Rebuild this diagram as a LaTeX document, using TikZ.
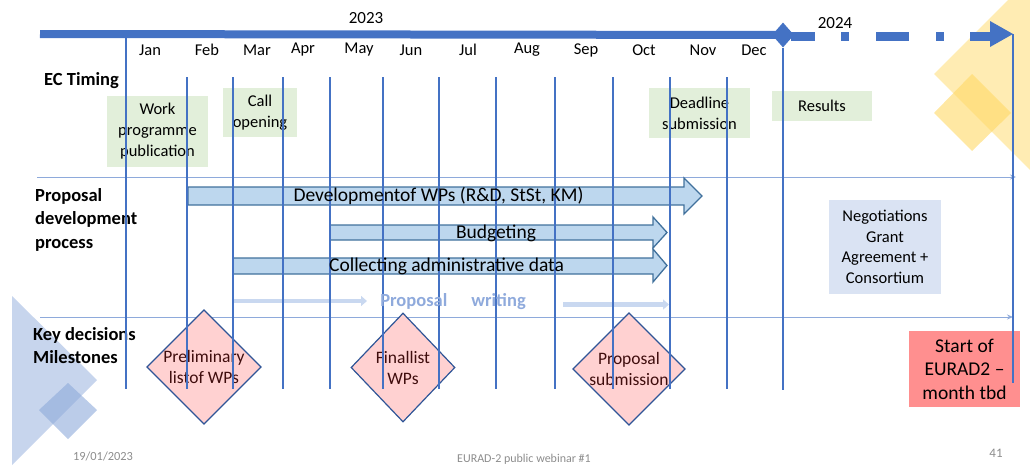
\documentclass[tikz,border=0pt]{standalone}
\usepackage{fontspec}
\setmainfont{Carlito}
\usetikzlibrary{shapes.geometric,arrows.meta}
\definecolor{barblue}{HTML}{4472C4}
\definecolor{sepblue}{HTML}{8EAADB}
\definecolor{arrfill}{HTML}{BDD7EE}
\definecolor{arrdraw}{HTML}{41719C}
\definecolor{ecgreen}{HTML}{E2EFDA}
\definecolor{negblue}{HTML}{DAE3F3}
\definecolor{startred}{HTML}{FF8F8F}
\definecolor{msfill}{HTML}{FFD1D1}
\definecolor{msdraw}{HTML}{2F5597}
\definecolor{mstext}{HTML}{3F0D0D}
\definecolor{wrarrow}{HTML}{C9D8F0}
\definecolor{wrtext}{HTML}{8FAADC}
\definecolor{yel}{HTML}{FFE699}
\definecolor{yel2}{HTML}{FFD966}
\definecolor{ltblue}{HTML}{B4C7E7}
\definecolor{footgray}{HTML}{8C8C8C}
\begin{document}
\begin{tikzpicture}[x=1pt,y=-1pt,
  vline/.style={draw=barblue,line width=1.3pt},
  sepline/.style={draw=sepblue,line width=1pt,-{Stealth[length=6pt,width=5pt]}},
  monthlbl/.style={font=\fontsize{16.5}{20}\selectfont,inner sep=0pt},
  yearlbl/.style={font=\fontsize{17}{20}\selectfont,inner sep=0pt},
  rowlbl/.style={font=\fontsize{18.5}{23.5}\selectfont\bfseries,align=left,anchor=west,inner sep=0pt},
  ecbox/.style={fill=ecgreen,inner sep=0pt,align=center,font=\fontsize{16.5}{21}\selectfont},
  blockarrow/.style={fill=arrfill,draw=arrdraw,line width=1.3pt},
  arrtext/.style={font=\fontsize{19.5}{22}\selectfont,inner sep=0pt},
  milestone/.style={diamond,fill=msfill,draw=msdraw,line width=1.2pt,inner sep=0pt,align=center,text=mstext,font=\fontsize{17.5}{21}\selectfont},
  wrarr/.style={draw=wrarrow,line width=4.5pt,-{Triangle[length=6pt,width=10pt]}},
  foot/.style={text=footgray,inner sep=0pt}]
\useasboundingbox (0,0) rectangle (1030,466);

% decorative shapes
\fill[yel,opacity=0.75] (934,74) -- (1008,0) -- (1030,0) -- (1030,170) -- cycle;
\fill[yel2,opacity=0.6] (934,113) -- (972,74) -- (1011,113) -- (972,151) -- cycle;
\fill[ltblue,opacity=0.75] (12,296) -- (97,380) -- (12,465) -- cycle;
\fill[sepblue,opacity=0.6] (39,410) -- (68,383) -- (97,410) -- (68,439) -- cycle;

% top timeline
\coordinate (barL) at (40,34);
\node[diamond,fill=barblue,minimum width=22pt,minimum height=25pt,inner sep=0pt] (d24) at (783,35) {};
\draw[draw=barblue,line width=8pt] (barL) -- (d24.center);
\coordinate (dstart) at (791,36.5);
\coordinate (dend) at (990,36.5);
\draw[draw=barblue,line width=9pt,dash pattern=on 24pt off 26pt on 8pt off 27pt on 33pt off 27pt on 8pt off 26pt on 30pt] (dstart) -- (dend);
\coordinate (tip) at (1013,34);
\fill[barblue] (990,21) -- (tip) -- (990,47) -- cycle;
\node[yearlbl] (y23) at (366,18) {2023};
\node[yearlbl] (y24) at (835,23) {2024};

% months
\foreach \m/\x in {Jan/150,Feb/207,Mar/257,Apr/303,May/359,Jun/411,Jul/468,Aug/527,Sep/586,Oct/644,Nov/703,Dec/754}
  \node[monthlbl] (m\m) at (\x,50) {\m};

% separators
\draw[sepline] (37,177) -- (1016,177);
\draw[sepline] (40,317) -- (1013,317);

% row labels
\node[rowlbl] (ec) at (44,81) {EC Timing};
\node[rowlbl] (pdp) at (35,219.5) {Proposal\\development\\process};
\node[rowlbl] (kdm) at (33,345.5) {Key decisions\\Milestones};

% EC timing boxes
\node[ecbox,minimum width=101pt,minimum height=71pt] (wpp) at (157.5,131.5) {Work\\programme\\publication};
\node[ecbox,minimum width=74pt,minimum height=49pt] (call) at (260,112.5) {Call\\opening};
\node[ecbox,minimum width=101pt,minimum height=50pt] (dead) at (699.5,113) {Deadline\\submission};
\node[ecbox,minimum width=100pt,minimum height=30pt] (res) at (822,106) {Results};

% block arrows
\draw[blockarrow] (188,187) -- (684,187) -- (684,178) -- (702,196) -- (684,214) -- (684,205) -- (188,205) -- cycle;
\draw[blockarrow] (330,225) -- (653,225) -- (653,217) -- (667,232.5) -- (653,248) -- (653,240) -- (330,240) -- cycle;
\draw[blockarrow] (233,258) -- (653,258) -- (653,249) -- (667,265.5) -- (653,282) -- (653,274) -- (233,274) -- cycle;

% proposal writing
\draw[wrarr] (233,301) -- (367,301);
\draw[wrarr] (563,304.5) -- (669,304.5);

% negotiations & start
\node[fill=negblue,minimum width=112pt,minimum height=94pt,inner sep=0pt,align=center,font=\fontsize{16.5}{20.7}\selectfont] (neg) at (885,247) {Negotiations\\Grant\\Agreement +\\Consortium};
\node[fill=startred,minimum width=111pt,minimum height=76pt,inner sep=0pt,align=center,font=\fontsize{19.5}{23.5}\selectfont] (start) at (964.5,369) {Start of\\EURAD2 --\\month tbd};

% milestones
\node[milestone,minimum width=102pt,minimum height=108pt] (ms1) at (204,367) {Preliminary\\listof WPs};
\node[milestone,minimum width=104pt,minimum height=109pt] (ms2) at (403,367.5) {Finallist\\WPs};
\node[milestone,minimum width=102pt,minimum height=108pt] (ms3) at (629,369) {Proposal\\submission};

% vertical month lines
\draw[vline] (126,37) -- (126,389);
\foreach \x in {187,233,283,330,383,439,496,555,613,670,727}
  \draw[vline] (\x,77) -- (\x,389);
\draw[vline] (d24.south) -- (783,390);
\draw[vline] (tip) -- (1013,383);

% arrow texts
\node[arrtext] (devt) at (438.5,196) {Developmentof WPs (R\&D, StSt, KM)};
\node[arrtext] (budt) at (496,233) {Budgeting};
\node[arrtext] (colt) at (446.5,266.5) {Collecting administrative data};
\node[inner sep=0pt,text=wrtext,font=\fontsize{18.5}{22}\selectfont\bfseries] (wrt) at (453,302) {Proposal\hspace{24pt}writing};

% footer
\node[foot,font=\fontsize{12.4}{14}\selectfont] (date) at (103,456) {19/01/2023};
\node[foot,font=\fontsize{12}{14}\selectfont] (web) at (524,459) {EURAD-2 public webinar \#1};
\node[foot,font=\fontsize{13}{15}\selectfont] (pg) at (996,453) {41};
\end{tikzpicture}
\end{document}
